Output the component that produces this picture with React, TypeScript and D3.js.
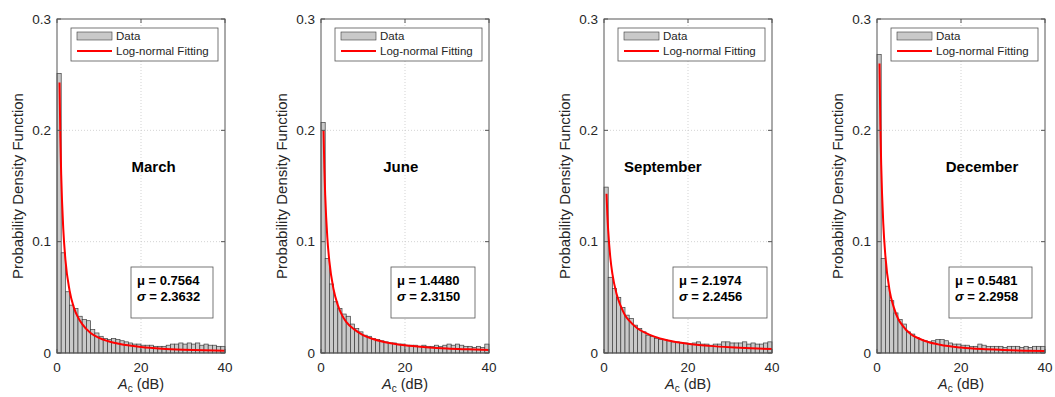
import React from 'react';
import * as d3 from 'd3';

// months shown in each panel
const months = ['March', 'June', 'September', 'December'];

// histogram bin heights, 1 dB bins from 0 to 40 dB
const histMarch = [0.251, 0.090, 0.055, 0.043, 0.040, 0.033, 0.030, 0.029, 0.021, 0.018, 0.015, 0.013, 0.012, 0.013, 0.012, 0.011, 0.010, 0.009, 0.008, 0.008, 0.007, 0.007, 0.007, 0.006, 0.006, 0.006, 0.007, 0.008, 0.008, 0.009, 0.008, 0.009, 0.008, 0.009, 0.007, 0.008, 0.007, 0.007, 0.006, 0.006];
const histJune = [0.207, 0.085, 0.062, 0.046, 0.040, 0.035, 0.033, 0.026, 0.022, 0.019, 0.016, 0.015, 0.013, 0.012, 0.011, 0.010, 0.009, 0.009, 0.008, 0.008, 0.007, 0.007, 0.007, 0.006, 0.007, 0.006, 0.006, 0.007, 0.006, 0.007, 0.008, 0.007, 0.008, 0.007, 0.006, 0.006, 0.005, 0.006, 0.005, 0.008];
const histSeptember = [0.149, 0.068, 0.058, 0.050, 0.041, 0.034, 0.031, 0.025, 0.022, 0.019, 0.016, 0.015, 0.013, 0.012, 0.012, 0.011, 0.010, 0.010, 0.009, 0.009, 0.008, 0.009, 0.010, 0.008, 0.008, 0.007, 0.008, 0.008, 0.010, 0.010, 0.009, 0.009, 0.009, 0.010, 0.008, 0.009, 0.008, 0.008, 0.009, 0.010];
const histDecember = [0.268, 0.085, 0.060, 0.047, 0.036, 0.030, 0.026, 0.019, 0.017, 0.014, 0.012, 0.011, 0.010, 0.011, 0.012, 0.012, 0.011, 0.009, 0.008, 0.008, 0.007, 0.007, 0.006, 0.006, 0.008, 0.007, 0.006, 0.006, 0.006, 0.006, 0.005, 0.006, 0.006, 0.006, 0.005, 0.006, 0.005, 0.006, 0.006, 0.006];

// fitted curve at these x positions (dB)
const fitX = [0.6, 0.8, 1, 1.5, 2, 3, 4, 5, 6, 8, 10, 12, 15, 20, 25, 30, 35, 40];
const fitMarch = [0.243, 0.194, 0.160, 0.111, 0.084, 0.056, 0.041, 0.032, 0.026, 0.018, 0.0136, 0.0108, 0.0080, 0.0054, 0.0039, 0.0030, 0.0024, 0.0020];
const fitJune = [0.200, 0.166, 0.142, 0.104, 0.082, 0.057, 0.043, 0.034, 0.028, 0.021, 0.0161, 0.0130, 0.0099, 0.0069, 0.0052, 0.0040, 0.0033, 0.0027];
const fitSeptember = [0.143, 0.124, 0.110, 0.086, 0.071, 0.053, 0.042, 0.034, 0.029, 0.022, 0.0178, 0.0147, 0.0115, 0.0083, 0.0064, 0.0051, 0.0042, 0.0036];
const fitDecember = [0.260, 0.205, 0.169, 0.116, 0.087, 0.056, 0.041, 0.031, 0.025, 0.017, 0.0130, 0.0101, 0.0074, 0.0049, 0.0035, 0.0027, 0.0021, 0.0017];

const muValues = ['0.7564', '1.4480', '2.1974', '0.5481'];
const sigmaValues = ['2.3632', '2.3150', '2.2456', '2.2958'];

// where the month label sits, in data units
const titleX = [23, 19, 14, 25];
const titleY = [0.167, 0.167, 0.167, 0.167];

const xTicks = [0, 20, 40];
const yTicks = [0, 0.1, 0.2, 0.3];

const hists = [histMarch, histJune, histSeptember, histDecember];
const fits = [fitMarch, fitJune, fitSeptember, fitDecember];

// panel layout (pixels)
const panelLeft = [57, 321, 604, 877];
const boxLeft = [74, 70, 69, 72];
const boxWidth = [82, 84, 94, 83];
const plotW = 168;
const plotTop = 19;
const plotH = 334;

const font = 'Liberation Sans, Arial, Helvetica, sans-serif';
const axisColor = '#555';
const textColor = '#262626';

function Panel({ idx }: { idx: number }) {
  const left = panelLeft[idx];
  const x = d3.scaleLinear().domain([0, 40]).range([left, left + plotW]);
  const y = d3.scaleLinear().domain([0, 0.3]).range([plotTop + plotH, plotTop]);
  const hist = hists[idx];
  const fit = fits[idx];
  const line = d3.line<number>()
    .x((_, i) => x(fitX[i]))
    .y(d => y(d))
    .curve(d3.curveMonotoneX);
  const bottom = y(0);
  const top = y(0.3);
  const right = x(40);
  const tick = 4;

  const bx = left + boxLeft[idx];
  const by = 267;
  const legX = left + 14;
  const legY = 28;
  const legW = plotW - 21;

  return (
    <g>
      {/* grid */}
      {xTicks.slice(1, -1).map(t => (
        <line key={'gx' + t} x1={x(t)} x2={x(t)} y1={top} y2={bottom}
          stroke="#c8c8c8" strokeWidth={0.8} strokeDasharray="1,2" />
      ))}
      {yTicks.slice(1, -1).map(t => (
        <line key={'gy' + t} x1={left} x2={right} y1={y(t)} y2={y(t)}
          stroke="#c8c8c8" strokeWidth={0.8} strokeDasharray="1,2" />
      ))}

      {/* histogram */}
      {hist.map((v, i) => (
        <rect key={'b' + i} x={x(i)} y={y(v)} width={x(i + 1) - x(i)} height={bottom - y(v)}
          fill="#c9c9c9" stroke="#3d3d3d" strokeWidth={0.7} />
      ))}

      {/* fit */}
      <path d={line(fit) || ''} fill="none" stroke="#ff0000" strokeWidth={2} />

      {/* axes box and ticks */}
      <rect x={left} y={top} width={plotW} height={plotH} fill="none" stroke={axisColor} strokeWidth={1} />
      {xTicks.map(t => (
        <g key={'tx' + t}>
          <line x1={x(t)} x2={x(t)} y1={bottom} y2={bottom - tick} stroke={axisColor} />
          <line x1={x(t)} x2={x(t)} y1={top} y2={top + tick} stroke={axisColor} />
          <text x={x(t)} y={bottom + 19} textAnchor="middle" fontSize={13.5} fill={textColor}>{t}</text>
        </g>
      ))}
      {yTicks.map(t => (
        <g key={'ty' + t}>
          <line x1={left} x2={left + tick} y1={y(t)} y2={y(t)} stroke={axisColor} />
          <line x1={right} x2={right - tick} y1={y(t)} y2={y(t)} stroke={axisColor} />
          <text x={left - 6} y={y(t)} dy="0.35em" textAnchor="end" fontSize={13.5} fill={textColor}>{t}</text>
        </g>
      ))}

      {/* axis labels */}
      <text x={(left + right) / 2} y={389} textAnchor="middle" fontSize={14.5} fill={textColor}>
        <tspan fontStyle="italic">A</tspan>
        <tspan dy={3} fontSize={10}>c</tspan>
        <tspan dy={-3}> (dB)</tspan>
      </text>
      <text transform={`translate(${left - 34},${(top + bottom) / 2}) rotate(-90)`}
        textAnchor="middle" fontSize={15} fill={textColor}>Probability Density Function</text>

      {/* legend */}
      <rect x={legX} y={legY} width={legW} height={33} fill="#fff" stroke={axisColor} strokeWidth={0.8} />
      <rect x={legX + 6} y={legY + 4} width={35} height={8} fill="#c9c9c9" stroke="#3d3d3d" strokeWidth={0.6} />
      <text x={legX + 45} y={legY + 8} dy="0.35em" fontSize={11.5} fill={textColor}>Data</text>
      <line x1={legX + 6} x2={legX + 41} y1={legY + 23} y2={legY + 23} stroke="#ff0000" strokeWidth={2} />
      <text x={legX + 45} y={legY + 23} dy="0.35em" fontSize={11.5} fill={textColor}>Log-normal Fitting</text>

      {/* month */}
      <text x={x(titleX[idx])} y={y(titleY[idx])} dy="0.35em" textAnchor="middle" fontSize={15}
        fontWeight="bold" fill="#000">{months[idx]}</text>

      {/* parameters */}
      <rect x={bx} y={by} width={boxWidth[idx]} height={51} fill="#fff" stroke={axisColor} strokeWidth={0.8} />
      <text x={bx + 6} y={by + 13} dy="0.35em" fontSize={13} fontWeight="bold" fill="#000">
        {'\u03bc = ' + muValues[idx]}
      </text>
      <text x={bx + 6} y={by + 29} dy="0.35em" fontSize={13} fontWeight="bold" fill="#000">
        <tspan fontStyle="italic">{'\u03c3'}</tspan>{' = ' + sigmaValues[idx]}
      </text>
    </g>
  );
}

export default function App() {
  return (
    <svg width={1055} height={397} style={{ position: 'absolute', left: 0, top: 0, fontFamily: font }}>
      <rect width={1055} height={397} fill="#fff" />
      {months.map((_, i) => <Panel key={i} idx={i} />)}
    </svg>
  );
}
